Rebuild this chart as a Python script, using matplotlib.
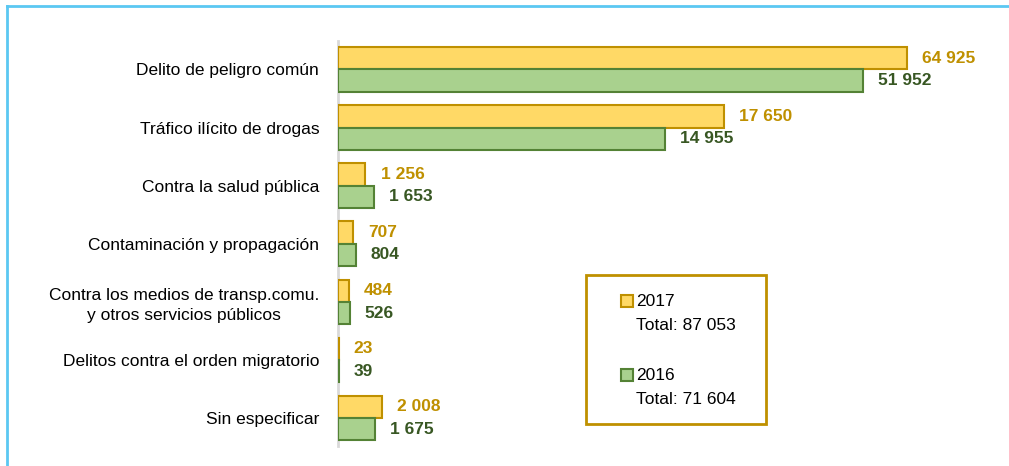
import matplotlib.pyplot as plt
import numpy as np
from matplotlib.lines import Line2D
from matplotlib.patches import Rectangle

categories = [
    "Delito de peligro común",
    "Tráfico ilícito de drogas",
    "Contra la salud pública",
    "Contaminación y propagación",
    "Contra los medios de transp.comu.\ny otros servicios públicos",
    "Delitos contra el orden migratorio",
    "Sin especificar",
]
values_2017 = [64925, 17650, 1256, 707, 484, 23, 2008]
values_2016 = [51952, 14955, 1653, 804, 526, 39, 1675]
series_labels = ["2017", "2016"]

YELLOW_FILL, YELLOW_EDGE = "#FFD966", "#BF9000"
GREEN_FILL, GREEN_EDGE = "#A9D18E", "#548235"
GREEN_TEXT = "#385723"
FRAME_BLUE = "#5BC8F2"
FS = 12.5

plt.rcParams["font.family"] = ["Liberation Sans", "DejaVu Sans"]

W, H = 1009, 466
fig = plt.figure(figsize=(W / 100, H / 100), dpi=100)


def fx(px):
    return px / W


def fy(py):
    # pixel y measured from the top
    return 1 - py / H


# compressed scale above a break point so the big category still fits
BREAK = 18850
RATIO = 0.155


def fwd(x):
    x = np.asarray(x, dtype=float)
    return np.where(x <= BREAK, x, BREAK + (x - BREAK) * RATIO)


def inv(y):
    y = np.asarray(y, dtype=float)
    return np.where(y <= BREAK, y, BREAK + (y - BREAK) / RATIO)


ax_left, ax_right, ax_top, ax_bottom = 338, 1000, 41, 446
ax = fig.add_axes([fx(ax_left), fy(ax_bottom), fx(ax_right - ax_left), (ax_bottom - ax_top) / H])
ax.set_xscale("function", functions=(fwd, inv))
units_per_px = 1 / 0.02188
ax.set_xlim(0, float(inv((ax_right - ax_left) * units_per_px)))

y = np.arange(len(categories))
h = 0.385
ax.barh(y - h / 2, values_2017, height=h, color=YELLOW_FILL, edgecolor=YELLOW_EDGE,
        linewidth=1.5, zorder=3)
ax.barh(y + h / 2, values_2016, height=h, color=GREEN_FILL, edgecolor=GREEN_EDGE,
        linewidth=1.5, zorder=3)

for i, (a, b) in enumerate(zip(values_2017, values_2016)):
    ax.annotate(f"{a:,}".replace(",", " "), (a, i - h / 2), xytext=(11, 0),
                textcoords="offset points", ha="left", va="center",
                fontsize=FS, fontweight="bold", color=YELLOW_EDGE)
    ax.annotate(f"{b:,}".replace(",", " "), (b, i + h / 2), xytext=(11, 0),
                textcoords="offset points", ha="left", va="center",
                fontsize=FS, fontweight="bold", color=GREEN_TEXT)

ax.set_ylim(6.48, -0.49)
ax.set_yticks(y)
ax.set_yticklabels(categories, fontsize=FS, multialignment="center", linespacing=1.4)
ax.tick_params(axis="y", length=0, pad=13.5)
ax.set_xticks([])
ax.xaxis.set_minor_locator(plt.NullLocator())
for side in ["top", "right", "bottom"]:
    ax.spines[side].set_visible(False)
ax.spines["left"].set_color("#D9D9D9")
ax.spines["left"].set_linewidth(2)
ax.spines["left"].set_zorder(1)

# outer frame (top and left edges only show)
fig.add_artist(Line2D([fx(7), 1.0], [fy(6), fy(6)], color=FRAME_BLUE, linewidth=2))
fig.add_artist(Line2D([fx(7), fx(7)], [fy(6), 0.0], color=FRAME_BLUE, linewidth=2))

# legend box
fig.add_artist(Rectangle((fx(586), fy(424)), fx(766 - 586), (424 - 275) / H,
                         transform=fig.transFigure, facecolor="white",
                         edgecolor=YELLOW_EDGE, linewidth=2))
totals = [sum(values_2017), sum(values_2016)]
fills = [(YELLOW_FILL, YELLOW_EDGE), (GREEN_FILL, GREEN_EDGE)]
for k, (lab, tot, (fc, ec)) in enumerate(zip(series_labels, totals, fills)):
    top = 295 + k * 74
    fig.add_artist(Rectangle((fx(621), fy(top + 12)), fx(12), 12 / H,
                             transform=fig.transFigure, facecolor=fc,
                             edgecolor=ec, linewidth=1.5))
    fig.text(fx(636), fy(top + 6), lab, fontsize=FS, va="center", ha="left")
    fig.text(fx(636), fy(top + 30), f"Total: {tot:,}".replace(",", " "),
             fontsize=FS, va="center", ha="left")

fig.savefig("out.png", dpi=100)
